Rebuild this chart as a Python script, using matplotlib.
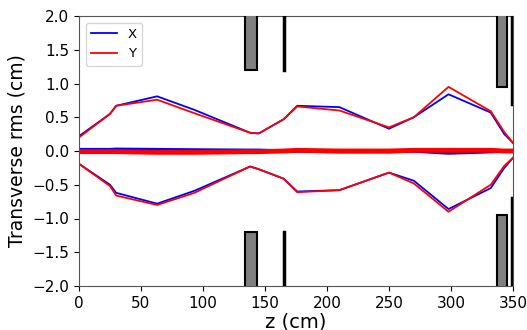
import matplotlib
matplotlib.use("Agg")
import matplotlib.pyplot as plt
from matplotlib.patches import Rectangle

# z positions (cm)
z = [0, 25, 30, 63, 93, 138, 145, 165, 176, 210, 250, 270, 298, 332, 343, 350]
# upper envelopes (+rms)
x_up = [0.22, 0.55, 0.67, 0.81, 0.61, 0.27, 0.26, 0.47, 0.67, 0.65, 0.33, 0.50, 0.84, 0.57, 0.25, 0.12]
y_up = [0.20, 0.55, 0.67, 0.76, 0.56, 0.27, 0.26, 0.47, 0.66, 0.60, 0.35, 0.50, 0.95, 0.59, 0.28, 0.12]
# lower envelopes (-rms)
x_lo = [-0.19, -0.50, -0.62, -0.78, -0.59, -0.23, -0.27, -0.41, -0.60, -0.58, -0.32, -0.44, -0.86, -0.55, -0.25, -0.10]
y_lo = [-0.19, -0.52, -0.66, -0.80, -0.62, -0.23, -0.27, -0.41, -0.61, -0.58, -0.32, -0.48, -0.90, -0.50, -0.22, -0.10]
# centroids
x_c = [0.02, 0.02, 0.025, 0.02, 0.015, 0.01, 0.01, 0.0, 0.0, -0.01, -0.01, 0.0, -0.03, -0.01, 0.0, 0.0]
y_c = [-0.01, -0.01, -0.01, -0.02, -0.02, -0.01, -0.01, 0.0, 0.01, 0.0, 0.0, 0.01, 0.01, 0.01, 0.0, 0.0]

# apertures: (z_start, z_end, inner edge)
gray_apertures = [(134, 143.5, 1.2), (337, 345, 0.95)]
thin_apertures = [(165, 1.2), (349, 0.7)]

fig = plt.figure(figsize=(5.27, 3.30), dpi=100)
ax = fig.add_axes([79/527, 1-286/330, (513-79)/527, (286-16)/330])

ax.plot(z, x_up, color='blue', lw=1.3, label='X')
ax.plot(z, y_up, color='red', lw=1.3, label='Y')
ax.plot(z, x_lo, color='blue', lw=1.3)
ax.plot(z, y_lo, color='red', lw=1.3)
ax.plot(z, x_c, color='blue', lw=2.5)
ax.plot(z, y_c, color='red', lw=3.5)

for z0, z1, edge in gray_apertures:
    ax.add_patch(Rectangle((z0, edge), z1 - z0, 2.5 - edge, facecolor='gray', edgecolor='black', lw=1.5, zorder=3))
    ax.add_patch(Rectangle((z0, -2.5), z1 - z0, 2.5 - edge, facecolor='gray', edgecolor='black', lw=1.5, zorder=3))
for zz, edge in thin_apertures:
    ax.plot([zz, zz], [edge, 2.5], color='black', lw=2.5, zorder=3)
    ax.plot([zz, zz], [-2.5, -edge], color='black', lw=2.5, zorder=3)

ax.set_xlim(0, 350)
ax.set_ylim(-2, 2)
ax.set_xticks([0, 50, 100, 150, 200, 250, 300, 350])
ax.set_yticks([-2.0, -1.5, -1.0, -0.5, 0.0, 0.5, 1.0, 1.5, 2.0])
ax.tick_params(labelsize=11)
ax.set_xlabel('z (cm)', fontsize=14, labelpad=1)
ax.set_ylabel('Transverse rms (cm)', fontsize=13.5)
for s in ax.spines.values():
    s.set_color('#555555')
ax.legend(loc='upper left', fontsize=9.5)

fig.savefig('out.png', dpi=100)
